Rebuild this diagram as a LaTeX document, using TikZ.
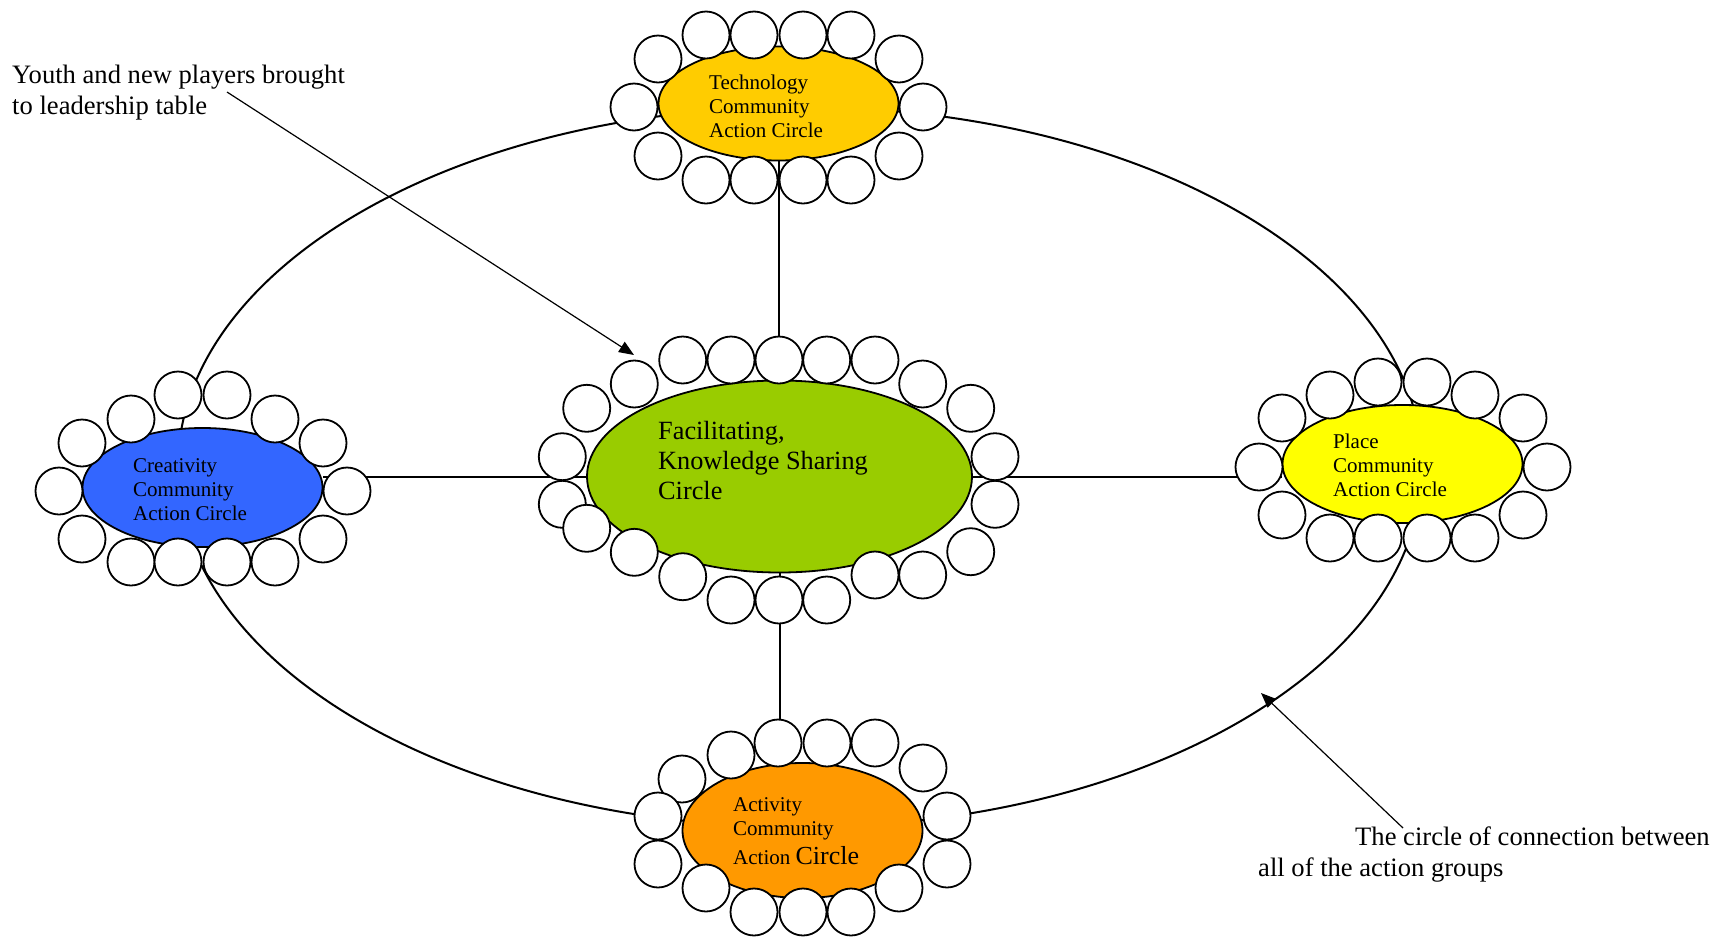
\documentclass[tikz,border=0pt]{standalone}
\usepackage{fontspec}
\setmainfont{Liberation Serif}
\usetikzlibrary{shapes.geometric,arrows.meta}
\newcommand{\stacklines}[1]{\begin{tabular}[t]{@{}l@{}}#1\end{tabular}}
\definecolor{techc}{HTML}{FFCC00}
\definecolor{centc}{HTML}{99CC00}
\definecolor{creac}{HTML}{3366FF}
\definecolor{placec}{HTML}{FFFF00}
\definecolor{actc}{HTML}{FF9900}
\begin{document}
\begin{tikzpicture}[x=1pt,y=-1pt,
  seat/.style={circle, draw, fill=white, line width=1.8pt, minimum size=47pt, inner sep=0pt},
  grp/.style={ellipse, draw, line width=1.8pt, inner sep=0pt},
  link/.style={line width=2pt},
  ring/.style={line width=2pt},
  pointer/.style={line width=1.2pt, -{Triangle[length=15pt,width=12pt]}},
  lbl/.style={anchor=base west, inner sep=0pt, font=\fontsize{21}{24}\selectfont},
  biglbl/.style={anchor=base west, inner sep=0pt, font=\fontsize{26.3}{30}\selectfont},
  note/.style={anchor=base west, inner sep=0pt, font=\fontsize{26.6}{31}\selectfont}]
\useasboundingbox (0,0) rectangle (1724,938);
\fill[white] (0,0) rectangle (1724,938);

% connection ring
\draw[ring] (800,467) ellipse [x radius=622pt, y radius=360pt];

% arrows
\coordinate (ya) at (227,92);
\coordinate (yb) at (634,355);
\coordinate (ca) at (1403,828);
\coordinate (cb) at (1261,693);
\draw[pointer] (ya) -- (yb);
\draw[pointer] (ca) -- (cb);

% group ellipses
\node[grp, fill=techc, minimum width=240pt, minimum height=114pt] (tech) at (778.5,103.5) {};
\node[grp, fill=centc, minimum width=385pt, minimum height=192pt] (cent) at (779.5,476.5) {};
\node[grp, fill=creac, minimum width=240pt, minimum height=119pt] (crea) at (202.5,487.5) {};
\node[grp, fill=placec, minimum width=240pt, minimum height=118pt] (place) at (1402.5,464) {};
\node[grp, fill=actc, minimum width=240pt, minimum height=135pt] (act) at (802.5,830.5) {};

% connectors
\draw[link] (tech.south) -- (tech.south |- cent.north);
\draw[link] (crea.east |- cent.west) -- (cent.west);
\draw[link] (cent.east) -- (cent.east -| place.west);
\draw[link] (cent.south) -- (cent.south |- act.north);

% seats
\foreach \x/\y [count=\i] in {706/35,754/35,803/35,851/35,658/59,899/59,634/107,923/107,658/156,899/156,706/180,754/180,803/180,851/180}
  \node[seat] (t\i) at (\x,\y) {};
\foreach \x/\y [count=\i] in {682.7/360,731/360,779/360,826.7/360,875/360,634.3/384,922.7/384,586.7/408.3,970.7/408.3,562.3/456.7,995/456.7,562.3/504.3,995/504.3,970.7/551.7,875/575,922.7/575,731/600,779/600,826.7/600,586.7/528.3,634.3/552.3,682.7/576.7}
  \node[seat] (c\i) at (\x,\y) {};
\foreach \x/\y [count=\i] in {178/395,227/395,131/419,275/419,82/443,323/443,59/491,347/491,82/539,323/539,131/562,178/562,227/562,275/562}
  \node[seat] (k\i) at (\x,\y) {};
\foreach \x/\y [count=\i] in {1378/382,1427/382,1330/395,1475/395,1282/418,1523/418,1259/467,1547/467,1282/515,1523/515,1330/538,1378/538,1427/538,1475/538}
  \node[seat] (p\i) at (\x,\y) {};
\foreach \x/\y [count=\i] in {778/743,827/743,875/743,731/755,923/768,682/779,658/816,947/816,658/864,947/864,706/888,899/888,754/912,803/912,851/912}
  \node[seat] (a\i) at (\x,\y) {};

% labels
\node[lbl] (techtxt) at (709,89) {\stacklines{Technology\\Community\\Action Circle}};
\node[biglbl] (centtxt) at (658,439) {\stacklines{Facilitating,\\Knowledge Sharing\\Circle}};
\node[lbl] (creatxt) at (133,472) {\stacklines{Creativity\\Community\\Action Circle}};
\node[lbl] (placetxt) at (1333,448) {\stacklines{Place\\Community\\Action Circle}};
\node[lbl] (acttxt) at (733,811) {\stacklines{Activity\\Community\\[4pt]Action {\fontsize{26}{24}\selectfont Circle}}};

\node[note] (youth) at (12,83) {\stacklines{Youth and new players brought\\to leadership table}};
\node[note] (circ) at (1258,845) {\stacklines{\hspace*{97pt}The circle of connection between\\all of the action groups}};
\end{tikzpicture}
\end{document}
